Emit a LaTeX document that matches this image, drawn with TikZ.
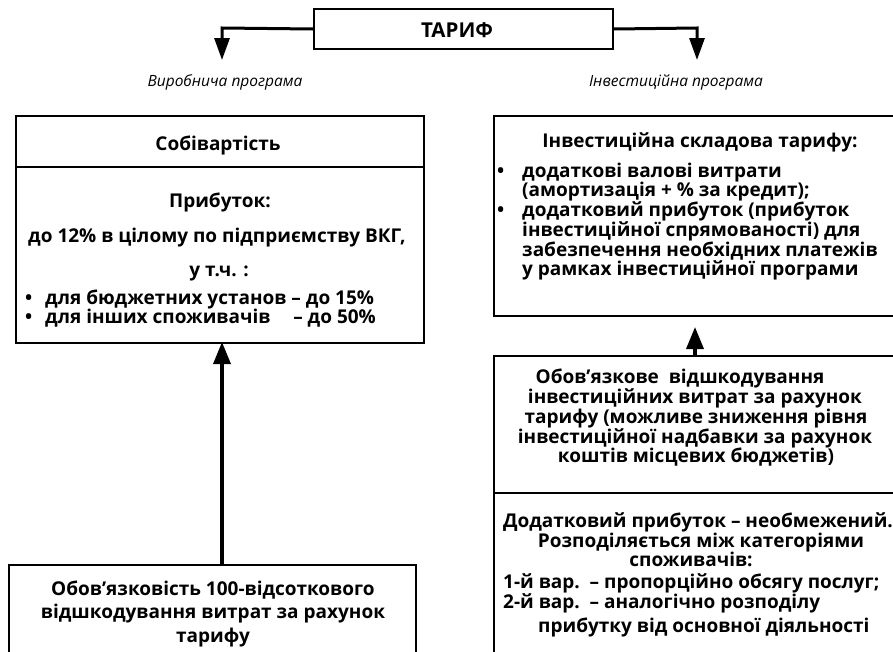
\documentclass[tikz,border=0pt]{standalone}
\usepackage{fontspec}
\setmainfont{Open Sans}
\usetikzlibrary{arrows.meta}
\tikzset{
  box/.style={draw=black, line width=2pt, fill=none, inner sep=0pt, anchor=north west},
  ln/.style={font=\fontsize{19}{20}\selectfont\bfseries, anchor=base, inner sep=0pt},
  lnl/.style={ln, anchor=base west},
  lbl/.style={font=\fontsize{15.5}{18}\selectfont\itshape, anchor=base, inner sep=0pt},
  arr/.style={line width=3.5pt, -{Triangle[length=22pt,width=17pt]}},
  tarr/.style={line width=3pt, -{Triangle[length=22pt,width=15pt]}}
}
\begin{document}
\begin{tikzpicture}[x=1pt,y=-1pt]
\useasboundingbox (0,0) rectangle (893,651);
% top tariff box
\node[box, minimum width=299pt, minimum height=40pt] (tarif) at (313,8) {};
\node[ln, font=\fontsize{20.5}{22}\selectfont\bfseries] (tt) at (457,37) {ТАРИФ};
\coordinate (lc) at (222,28);
\coordinate (rc) at (697,28);
\coordinate (lt) at (222,60);
\coordinate (rt) at (697,60);
\draw[tarr] (tarif.west) -- (lc) -- (lt);
\draw[tarr] (tarif.east) -- (rc) -- (rt);
\node[lbl] (lp) at (225,86) {Виробнича програма};
\node[lbl] (rp) at (676,86) {Інвестиційна програма};
% left top box
\node[box, minimum width=408pt, minimum height=227pt] (lb) at (15,115) {};
\coordinate (ldl) at (15,167);
\coordinate (ldr) at (423,167);
\draw[line width=2pt] (ldl) -- (ldr);
\node[ln] (l1) at (218,150) {Собівартість};
\node[ln] (l2) at (220,207) {Прибуток:};
\node[ln] (l3) at (217,242) {до 12\% в цілому по підприємству ВКГ,};
\node[ln] (l4) at (219,276) {у т.ч. :};
\node[lnl] (l5b) at (25,304) {•};
\node[lnl] (l5) at (45,304) {для бюджетних установ – до 15\%};
\node[lnl] (l6b) at (25,323) {•};
\node[lnl] (l6) at (45,323) {для інших споживачів\hspace{1.2em}– до 50\%};
% bottom left box
\node[box, minimum width=407pt, minimum height=110pt] (bl) at (8,564) {};
\node[ln] (b1) at (213,595) {Обов’язковість 100-відсоткового};
\node[ln] (b2) at (213,618) {відшкодування витрат за рахунок};
\node[ln] (b3) at (213,642) {тарифу};
\coordinate (blt) at (222,564);
\coordinate (lbb) at (222,342);
\draw[arr] (blt) -- (lbb);
% right top box
\node[box, minimum width=420pt, minimum height=200pt] (rb) at (493,115) {};
\node[ln] (r1) at (700,147) {Інвестиційна складова тарифу:};
\node[lnl] (r2b) at (497,177) {•};
\node[lnl] (r2) at (522,177) {додаткові валові витрати};
\node[lnl] (r3) at (522,196) {(амортизація + \% за кредит);};
\node[lnl] (r4b) at (497,216) {•};
\node[lnl] (r4) at (522,216) {додатковий прибуток (прибуток};
\node[lnl] (r5) at (522,236) {інвестиційної спрямованості) для};
\node[lnl] (r6) at (522,256) {забезпечення необхідних платежів};
\node[lnl] (r7) at (522,275) {у рамках інвестиційної програми};
% right middle box
\node[box, minimum width=420pt, minimum height=320pt] (rm) at (493,355) {};
\coordinate (rdl) at (493,493);
\coordinate (rdr) at (913,493);
\draw[line width=2pt] (rdl) -- (rdr);
\coordinate (rmt) at (695,355);
\coordinate (rbb) at (695,315);
\draw[arr, shorten >=12pt] (rmt) -- (rbb);
\node[ln] (m1) at (680,383) {Обов{\char"0027}язкове\ \ відшкодування};
\node[ln] (m2) at (695,403) {інвестиційних витрат за рахунок};
\node[ln] (m3) at (696,423) {тарифу (можливе зниження рівня};
\node[ln] (m4) at (695,443) {інвестиційної надбавки за рахунок};
\node[ln] (m5) at (696,462) {коштів місцевих бюджетів)};
\node[ln] (n1) at (698,527) {Додатковий прибуток – необмежений.};
\node[ln] (n2) at (701,547) {Розподіляється між категоріями};
\node[ln] (n3) at (691,566) {споживачів:};
\node[lnl] (n4) at (503,588) {1-й вар.\ \ – пропорційно обсягу послуг;};
\node[lnl] (n5) at (503,608) {2-й вар.\ \ – аналогічно розподілу};
\node[lnl] (n6) at (538,632) {прибутку від основної діяльності};
\end{tikzpicture}
\end{document}
